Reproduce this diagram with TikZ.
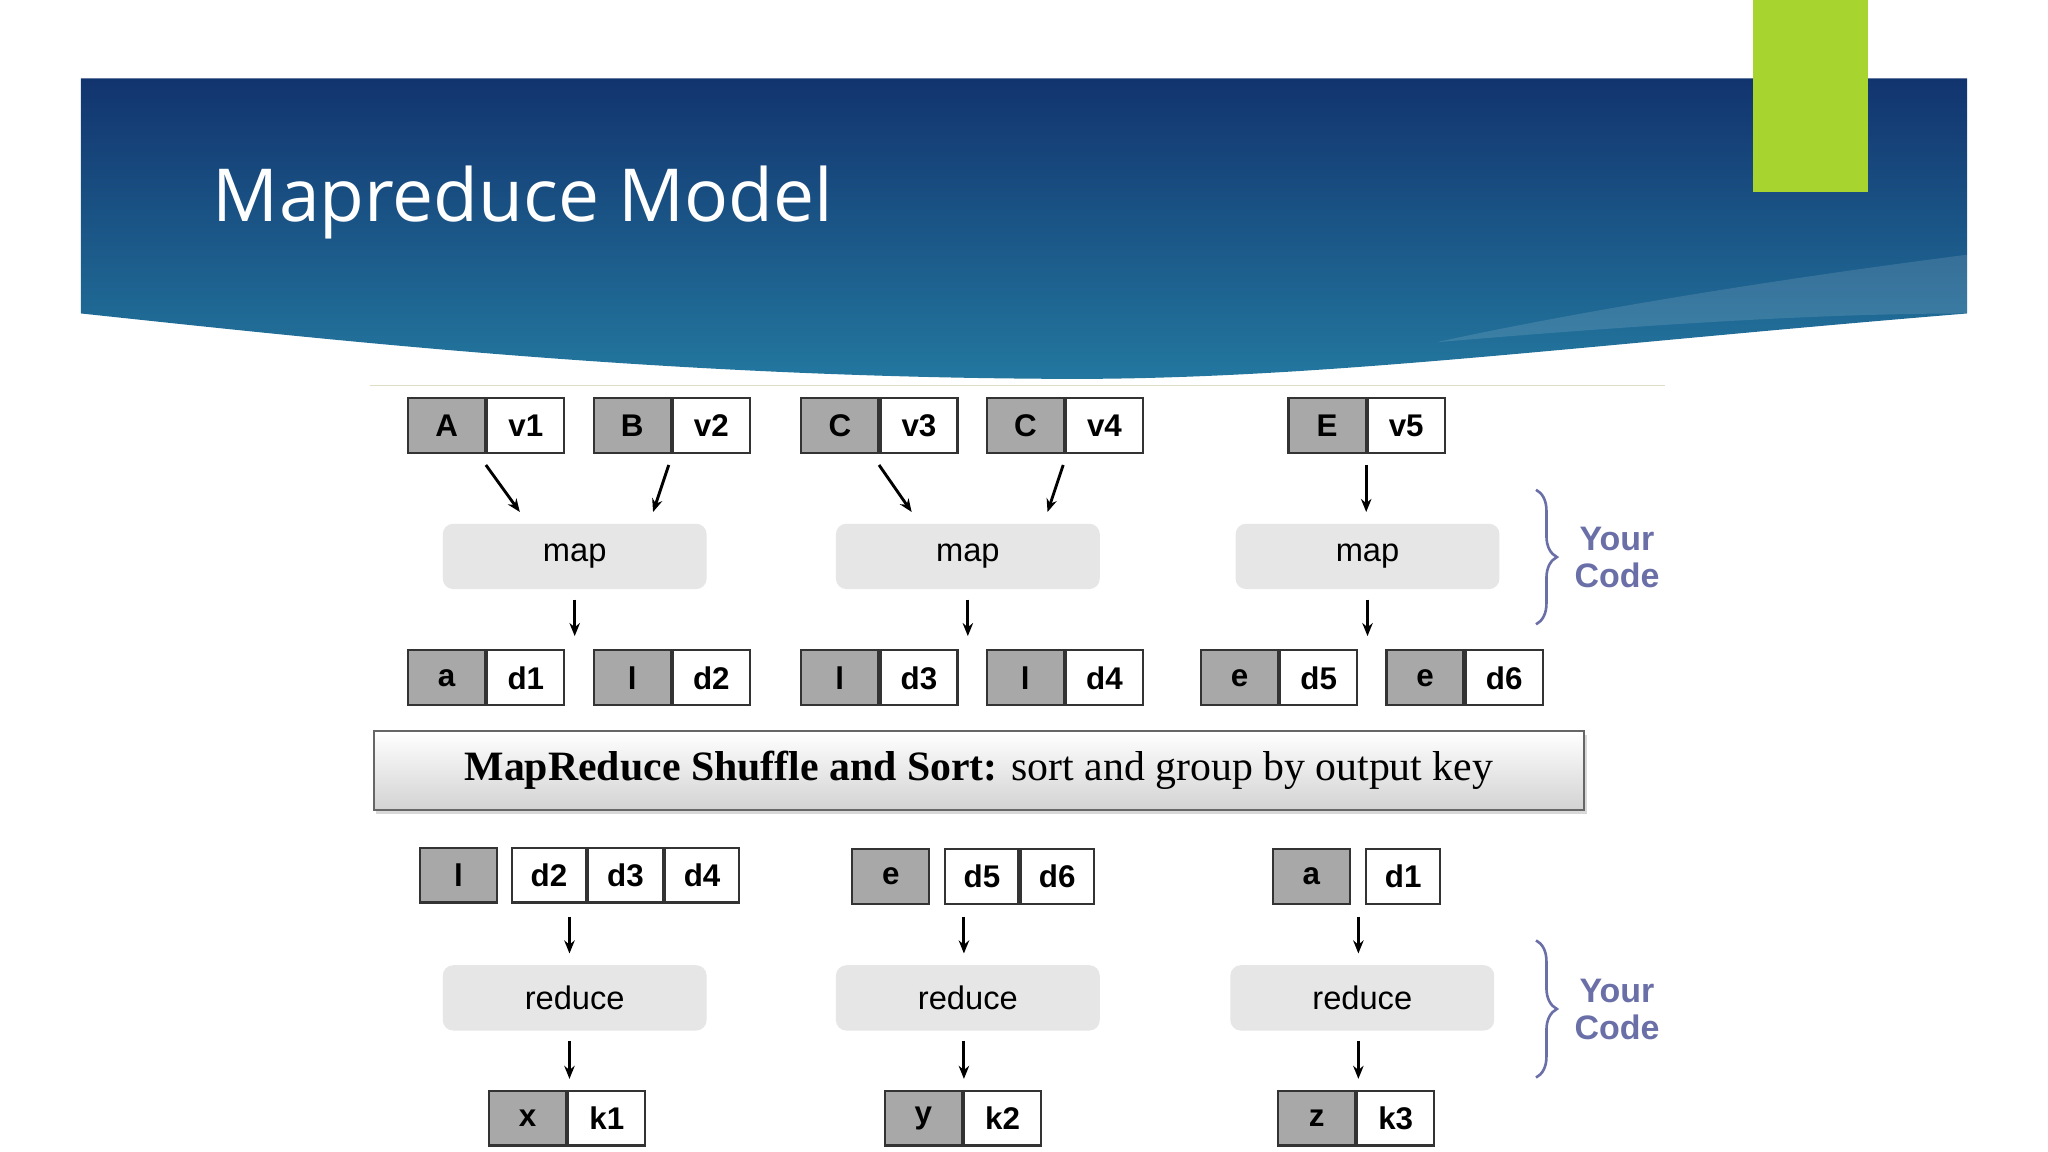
\documentclass[tikz,border=0pt]{standalone}
\usepackage{fontspec}
\setmainfont{Liberation Sans}
\newfontfamily\titlefont{Open Sans}
\newfontfamily\seriffont{Liberation Serif}
\usetikzlibrary{decorations.pathreplacing,arrows.meta,shadows}
\definecolor{keyg}{HTML}{A8A8A8}
\definecolor{mapg}{HTML}{E6E6E6}
\definecolor{codec}{HTML}{6A6FA8}
\definecolor{hdtop}{RGB}{18,52,110}
\definecolor{hdbot}{RGB}{35,120,160}
\definecolor{lime}{RGB}{168,212,48}
\begin{document}
\begin{tikzpicture}[x=0.5pt,y=-0.5pt,
 key/.style={draw=black!80,line width=0.8pt,fill=keyg,minimum width=29.5pt,minimum height=21pt,inner sep=0,font=\bfseries\fontsize{12}{14}\selectfont,anchor=center},
 val/.style={key,fill=white},
 proc/.style={fill=mapg,rounded corners=4pt,minimum width=101pt,minimum height=25pt,inner sep=0,font=\fontsize{12.5}{14}\selectfont},
 arr/.style={-{Stealth[length=5pt,width=4pt]},line width=1.1pt},
 code/.style={text=codec,font=\bfseries\fontsize{13}{16}\selectfont,align=center},
 br/.style={decorate,decoration={brace,amplitude=8pt},line width=1pt,draw=codec}]
\useasboundingbox (0,0) rectangle (1568,882);
\fill[white] (0,0) rectangle (1568,882);
% header
\shade[top color=hdtop,bottom color=hdbot]
 (62,60) -- (1506,60) -- (1506,240) .. controls (1200,265) and (1000,292) .. (800,290) .. controls (500,288) and (250,260) .. (62,240) -- cycle;
\fill[white,opacity=0.12] (1506,195) .. controls (1350,215) and (1200,240) .. (1100,262) .. controls (1300,245) and (1420,240) .. (1506,240) -- cycle;
\fill[lime] (1342,0) rectangle (1430,147);
\node[anchor=west,text=white,font=\titlefont\fontsize{28}{34}\selectfont] (title) at (156,155) {Mapreduce Model};
\draw[yellow!30!gray!40,line width=0.6pt] (283,295) -- (1275,295);
% top row
\foreach \n/\x/\k/\v in {p1/342/A/v1,p2/484/B/v2,p3/643/C/v3,p4/785/C/v4,p5/1016/E/v5}{
 \node[key] (\n k) at (\x,326) {\k};
 \node[val,anchor=west] (\n v) at (\n k.east) {\v};}
\foreach \n/\x in {m1/440,m2/741,m3/1047}{\node[proc] (\n) at (\x,426) {map};}
\coordinate (a1) at (372,356); \coordinate (b1) at (398,392);
\coordinate (a2) at (512,356); \coordinate (b2) at (500,392);
\coordinate (a3) at (673,356); \coordinate (b3) at (698,392);
\coordinate (a4) at (814,356); \coordinate (b4) at (802,392);
\coordinate (a5) at (1046,356); \coordinate (b5) at (1046,392);
\foreach \i in {1,...,5}{\draw[arr] (a\i) -- (b\i);}
\foreach \n/\x/\k/\v in {q1/342/a/d1,q2/484/l/d2,q3/643/l/d3,q4/785/l/d4,q5/949/e/d5,q6/1091/e/d6}{
 \node[key] (\n k) at (\x,519) {\k};
 \node[val,anchor=west] (\n v) at (\n k.east) {\v};}
\foreach \m/\x in {m1/440,m2/741,m3/1047}{
 \coordinate (\m t) at (\x,459); \coordinate (\m b) at (\x,487);
 \draw[arr] (\m t) -- (\m b);}
% shuffle bar
\node[draw=gray!80!black,line width=0.8pt,top color=white,bottom color=gray!35,minimum width=463.5pt,minimum height=30pt,inner sep=0,drop shadow={opacity=0.3,shadow xshift=1pt,shadow yshift=-1.5pt},font=\seriffont\fontsize{16}{20}\selectfont] (shuf) at (749.5,590) {\textbf{MapReduce Shuffle and Sort:} sort and group by output key};
% bottom
\node[key] (r1k) at (351,670) {l};
\node[val,anchor=west,minimum width=28.5pt] (r1a) at (391,670) {d2};
\node[val,anchor=west,minimum width=28.5pt] (r1b) at (r1a.east) {d3};
\node[val,anchor=west,minimum width=28.5pt] (r1c) at (r1b.east) {d4};
\node[key] (r2k) at (682,671) {e};
\node[val,anchor=west,minimum width=28pt] (r2a) at (723,671) {d5};
\node[val,anchor=west,minimum width=28pt] (r2b) at (r2a.east) {d6};
\node[key] (r3k) at (1004,671) {a};
\node[val,anchor=west,minimum width=28.5pt] (r3a) at (1045,671) {d1};
\foreach \n/\x in {red1/440,red2/741,red3/1043}{\node[proc] (\n) at (\x,764) {reduce};}
\foreach \i/\x in {1/436,2/738,3/1040}{
 \coordinate (s\i) at (\x,702); \coordinate (t\i) at (\x,730);
 \coordinate (u\i) at (\x,797); \coordinate (w\i) at (\x,826);
 \draw[arr] (s\i) -- (t\i); \draw[arr] (u\i) -- (w\i);}
\foreach \n/\x/\k/\v in {o1/404/x/k1,o2/707/y/k2,o3/1008/z/k3}{
 \node[key] (\n k) at (\x,856) {\k};
 \node[val,anchor=west] (\n v) at (\n k.east) {\v};}
% braces
\coordinate (c1) at (1176,375); \coordinate (c2) at (1176,478);
\coordinate (c3) at (1176,720); \coordinate (c4) at (1176,825);
\draw[br] (c1) -- (c2);
\draw[br] (c3) -- (c4);
\node[code] (code1) at (1238,427) {Your\\[-2pt]Code};
\node[code] (code2) at (1238,773) {Your\\[-2pt]Code};
\end{tikzpicture}
\end{document}
